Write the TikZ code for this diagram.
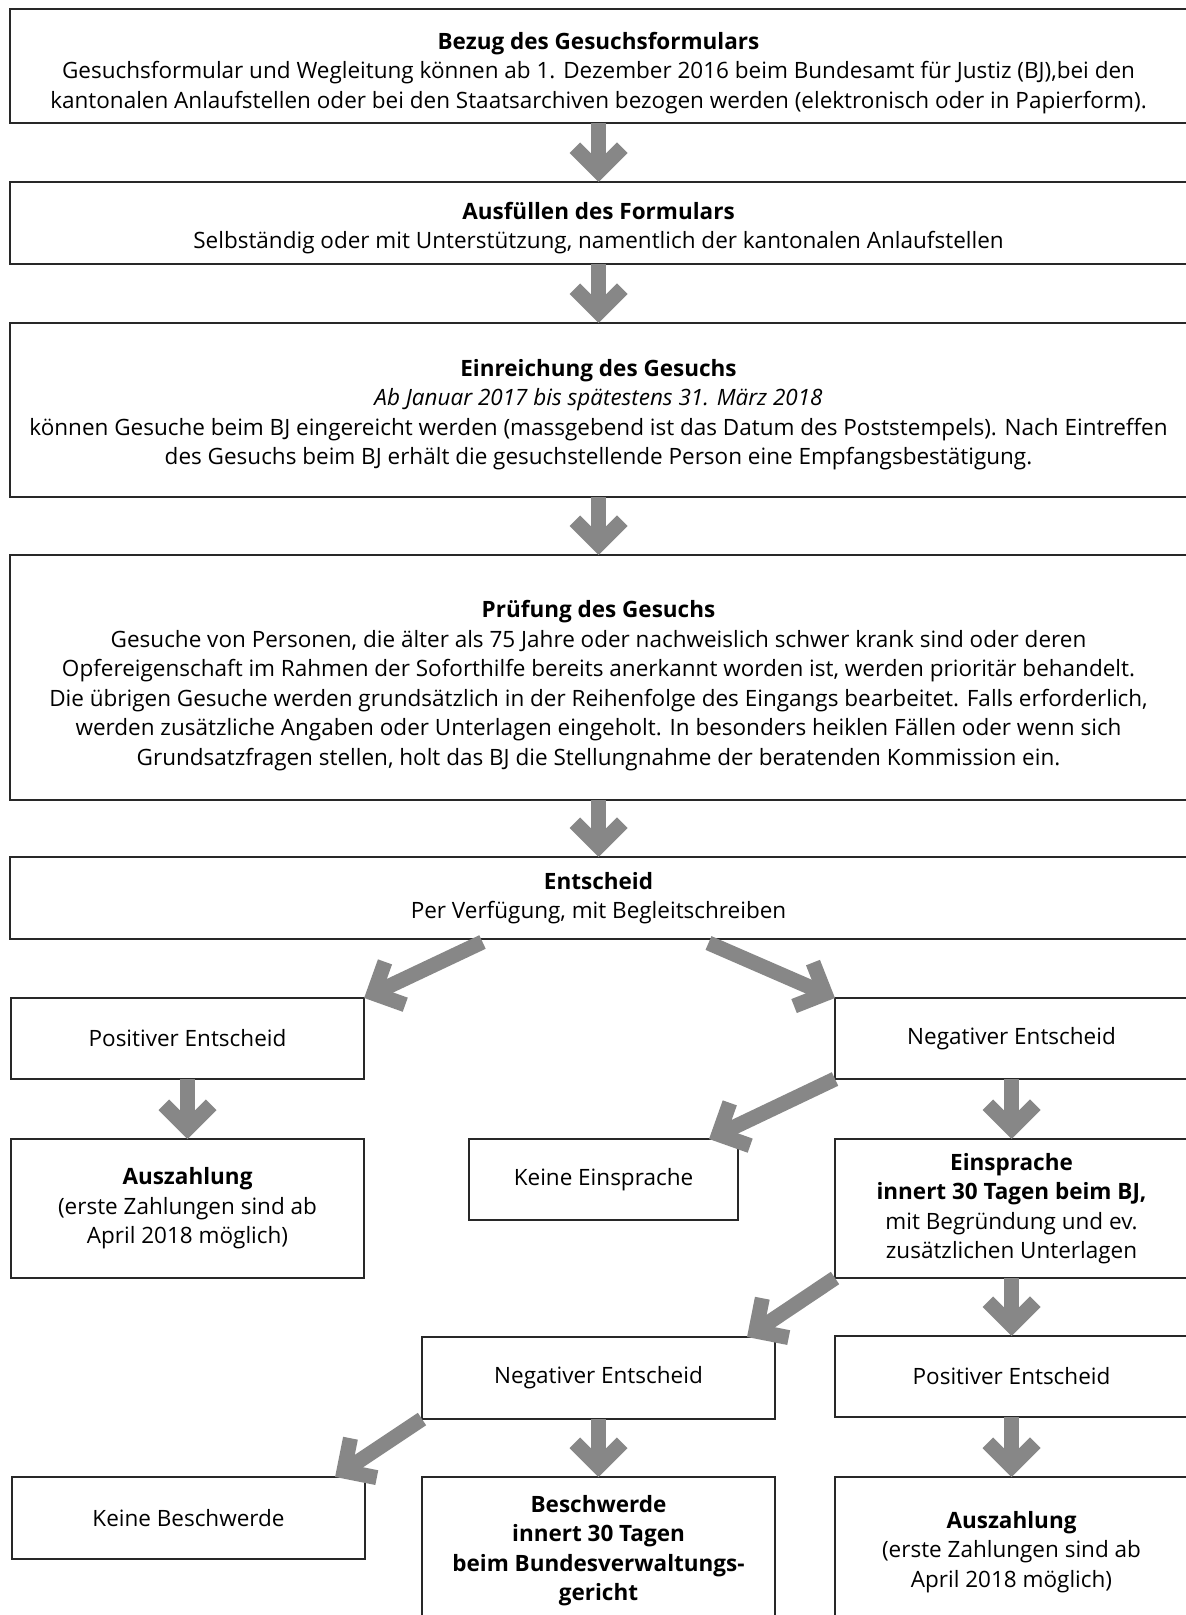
\documentclass[tikz,border=0pt]{standalone}
\usepackage{fontspec}
\setmainfont{Open Sans}
\usetikzlibrary{positioning,calc,decorations.markings}
\definecolor{arrowgray}{RGB}{135,135,135}
\definecolor{boxline}{RGB}{40,40,40}

\begin{document}
\begin{tikzpicture}[x=0.5pt,y=-0.5pt,
	box/.style={draw=boxline,line width=0.9pt,rectangle,anchor=north west,align=center,
		inner sep=0pt,outer sep=0pt,font=\fontsize{11.25}{14.75}\selectfont},
	wide/.style={box,minimum width=588.5pt},
	narrow/.style={box,minimum width=176.5pt},
	bigarrow/.style={draw=arrowgray,line width=7.5pt,shorten >=7pt,postaction={decorate},
		decoration={markings,mark=at position 0.99999 with {
			\fill[arrowgray,shorten >=0pt] (0,0) -- (-29,29) -- (-39.6,18.4) -- (-28.7,7.5)
			-- (-28.7,-7.5) -- (-39.6,-18.4) -- (-29,-29) -- cycle;}}}]
	\useasboundingbox (0,0) rectangle (1185,1615);

	\node (bezug) [wide,minimum height=57pt] at (10,9)
		{\rule{0pt}{15.5pt}\textbf{Bezug des Gesuchsformulars}\\
		Gesuchsformular und Wegleitung können ab 1. Dezember 2016 beim Bundesamt für Justiz (BJ),bei den\\
		kantonalen Anlaufstellen oder bei den Staatsarchiven bezogen werden (elektronisch oder in Papierform).};
	\node (ausf) [wide,minimum height=41pt,below=29.5pt of bezug]
		{\rule{0pt}{13.6pt}\textbf{Ausfüllen des Formulars}\\
		Selbständig oder mit Unterstützung, namentlich der kantonalen Anlaufstellen};
	\node (einr) [wide,minimum height=87pt,below=29.5pt of ausf]
		{\rule{0pt}{13.1pt}\textbf{Einreichung des Gesuchs}\\
		\textit{Ab Januar 2017 bis spätestens 31. März 2018}\\
		können Gesuche beim BJ eingereicht werden (massgebend ist das Datum des Poststempels). Nach Eintreffen\\
		des Gesuchs beim BJ erhält die gesuchstellende Person eine Empfangsbestätigung.};
	\node (pruef) [wide,minimum height=122.5pt,below=29pt of einr]
		{\rule{0pt}{16.5pt}\textbf{Prüfung des Gesuchs}\\
		Gesuche von Personen, die älter als 75 Jahre oder nachweislich schwer krank sind oder deren\\
		Opfereigenschaft im Rahmen der Soforthilfe bereits anerkannt worden ist, werden prioritär behandelt.\\
		Die übrigen Gesuche werden grundsätzlich in der Reihenfolge des Eingangs bearbeitet. Falls erforderlich,\\
		werden zusätzliche Angaben oder Unterlagen eingeholt. In besonders heiklen Fällen oder wenn sich\\
		Grundsatzfragen stellen, holt das BJ die Stellungnahme der beratenden Kommission ein.};
	\node (entsch) [wide,minimum height=41pt,below=28.5pt of pruef]
		{\textbf{Entscheid}\\
		Per Verfügung, mit Begleitschreiben};

	\node (pos1) [narrow,minimum height=40.5pt] at (11,998) {Positiver Entscheid};
	\node (ausz1) [narrow,minimum height=69.5pt,below=30pt of pos1]
		{\textbf{Auszahlung}\\(erste Zahlungen sind ab\\April 2018 möglich)};
	\node (keinE) [box,minimum width=134.5pt,minimum height=40.5pt] at (469,1139) {Keine Einsprache};
	\node (neg1) [narrow,minimum height=40.5pt] at (835,998) {Negativer Entscheid};
	\node (einspr) [narrow,minimum height=69.5pt,below=30pt of neg1]
		{\textbf{Einsprache}\\\textbf{innert 30 Tagen beim BJ,}\\mit Begründung und ev.\\zusätzlichen Unterlagen};
	\node (pos2) [narrow,minimum height=40.5pt,below=29pt of einspr] {Positiver Entscheid};
	\node (ausz2) [narrow,minimum height=75pt,below=30pt of pos2]
		{\textbf{Auszahlung}\\(erste Zahlungen sind ab\\April 2018 möglich)};
	\node (neg2) [narrow,minimum height=41pt] at (422,1337) {Negativer Entscheid};
	\node (beschw) [narrow,minimum height=73.5pt,below=29pt of neg2]
		{\textbf{Beschwerde}\\\textbf{innert 30 Tagen}\\\textbf{beim Bundesverwaltungs-}\\\textbf{gericht}};
	\node (keinB) [narrow,minimum height=41pt] at (12,1477) {Keine Beschwerde};

	\draw[bigarrow] (bezug) -- (ausf);
	\draw[bigarrow] (ausf) -- (einr);
	\draw[bigarrow] (einr) -- (pruef);
	\draw[bigarrow] (pruef) -- (entsch);
	\draw[bigarrow] ($(entsch.south)+(-116,3)$) -- (pos1.north east);
	\draw[bigarrow] ($(entsch.south)+(110,4)$) -- (neg1.north west);
	\draw[bigarrow] (pos1) -- (ausz1);
	\draw[bigarrow] (neg1.south west) -- ($(keinE.north east)+(-29,0)$);
	\draw[bigarrow] (neg1) -- (einspr);
	\draw[bigarrow] (einspr.south west) -- ($(neg2.north east)+(-28,0)$);
	\draw[bigarrow] (einspr) -- (pos2);
	\draw[bigarrow] (pos2) -- (ausz2);
	\draw[bigarrow] (neg2.south west) -- ($(keinB.north east)+(-30,0)$);
	\draw[bigarrow] (neg2) -- (beschw);
\end{tikzpicture}
\end{document}
